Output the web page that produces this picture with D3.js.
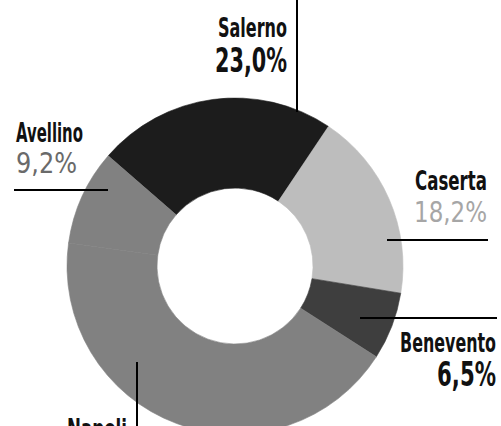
<!DOCTYPE html>
<html>
<head>
<meta charset="utf-8">
<script src="https://cdn.jsdelivr.net/npm/d3@7"></script>
<style>
  body { margin: 0; background: #fff; }
  svg { display: block; }
  text { font-family: "DejaVu Sans Condensed", "DejaVu Sans", sans-serif; font-stretch: condensed; }
</style>
</head>
<body>
<div id="chart"></div>
<script>
// data
const provinces = ['Salerno', 'Caserta', 'Benevento', 'Napoli', 'Avellino'];
const shares = [23.0, 18.2, 6.5, 43.1, 9.2];
const shareLabels = ['23,0%', '18,2%', '6,5%', '', '9,2%'];

const colors = ['#1c1c1c', '#bdbdbd', '#3e3e3e', '#818181', '#818181'];

const width = 501, height = 426;
const cx = 235, cy = 266;
const outerR = 168, innerR = 78;

const svg = d3.select('#chart').append('svg')
  .attr('width', width)
  .attr('height', height);

const pie = d3.pie().sort(null).value(d => d)
  .startAngle(-49 * Math.PI / 180)
  .endAngle((360 - 49) * Math.PI / 180);

const arc = d3.arc().innerRadius(innerR).outerRadius(outerR);

const g = svg.append('g').attr('transform', `translate(${cx},${cy})`);
g.selectAll('path')
  .data(pie(shares))
  .join('path')
    .attr('d', arc)
    .attr('fill', (d, i) => colors[i])
    .attr('stroke', (d, i) => colors[i])
    .attr('stroke-width', 0.6);

// label layout (positions only): [x, baseline, width, font size]
const layout = {
  Salerno:   { line: [[297, 0], [297, 112]], name: [287, 37, 69, 26], val: [287, 72, 72, 33], anchor: 'end', bold: true, valColor: '#111' },
  Avellino:  { line: [[14, 190], [108, 190]], name: [16, 142, 67, 26], val: [16, 173, 61, 28], anchor: 'start', bold: false, valColor: '#6a6a6a' },
  Caserta:   { line: [[387, 240], [488, 240]], name: [487, 190, 72, 26], val: [487, 222, 73, 28], anchor: 'end', bold: false, valColor: '#a6a6a6' },
  Benevento: { line: [[360, 318], [497, 318]], name: [496, 352, 96, 27], val: [496, 386, 59, 33], anchor: 'end', bold: true, valColor: '#111' },
  Napoli:    { line: [[137, 362], [137, 426]], name: [127, 438, 60, 26], val: null, anchor: 'end', bold: false, valColor: '#111' }
};

// squeeze text horizontally to the wanted width (condensed look)
function addText(x, y, w, size, anchor, weight, fill, str) {
  const t = svg.append('text')
    .attr('text-anchor', anchor)
    .attr('font-size', size)
    .attr('font-weight', weight)
    .attr('fill', fill)
    .text(str);
  const w0 = t.node().getComputedTextLength();
  t.attr('transform', `translate(${x},${y}) scale(${w / w0},1)`);
}

provinces.forEach((p, i) => {
  const L = layout[p];
  svg.append('line')
    .attr('x1', L.line[0][0]).attr('y1', L.line[0][1])
    .attr('x2', L.line[1][0]).attr('y2', L.line[1][1])
    .attr('stroke', '#000')
    .attr('stroke-width', 2);

  addText(L.name[0], L.name[1], L.name[2], L.name[3], L.anchor, 'bold', '#111', p);

  if (L.val) {
    addText(L.val[0], L.val[1], L.val[2], L.val[3], L.anchor,
      L.bold ? 'bold' : 'normal', L.valColor, shareLabels[i]);
  }
});
</script>
</body>
</html>
